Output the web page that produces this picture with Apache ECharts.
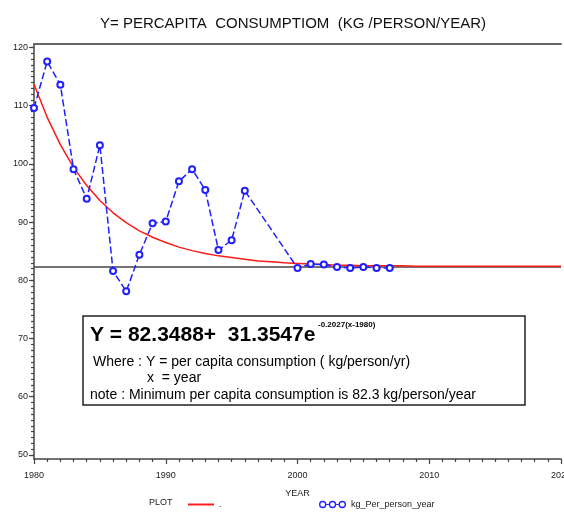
<!DOCTYPE html>
<html>
<head>
<meta charset="utf-8">
<script src="https://cdn.jsdelivr.net/npm/echarts@6/dist/echarts.min.js"></script>
<style>
  html, body { margin: 0; padding: 0; background: #fff; }
  #chart { width: 564px; height: 513px; }
</style>
</head>
<body>
<div id="chart"></div>
<script>
// observed consumption (kg/person/year)
var obsYears = [1980, 1981, 1982, 1983, 1984, 1985, 1986, 1987, 1988, 1989, 1990, 1991, 1992,
                1993, 1994, 1995, 1996, 2000, 2001, 2002, 2003, 2004, 2005, 2006, 2007];
var obsValues = [109.6, 117.6, 113.6, 99.1, 94.0, 103.2, 81.6, 78.1, 84.4, 89.8, 90.1, 97.0, 99.1,
                 95.5, 85.2, 86.9, 95.4, 82.1, 82.8, 82.7, 82.3, 82.1, 82.3, 82.1, 82.1];

// fitted curve
var fitYears = [1980, 1981, 1982, 1983, 1984, 1985, 1986, 1987, 1988, 1989, 1990, 1991, 1992,
                1993, 1994, 1995, 1996, 1997, 1998, 1999, 2000, 2001, 2002, 2003, 2004, 2005,
                2006, 2007, 2008, 2009, 2010, 2012, 2015, 2020];
var fitValues = [113.7, 108.0, 103.3, 99.4, 96.3, 93.7, 91.6, 89.9, 88.5, 87.4, 86.5, 85.7, 85.1,
                 84.6, 84.2, 83.9, 83.6, 83.3, 83.2, 83.0, 82.9, 82.8, 82.7, 82.6, 82.6, 82.5,
                 82.5, 82.5, 82.5, 82.4, 82.4, 82.4, 82.4, 82.4];

var asymptote = 82.3488;

// axis ticks
var yTicks = [50, 60, 70, 80, 90, 100, 110, 120];
var yMinorTicks = [];
for (var v = 50; v <= 120; v++) { yMinorTicks.push(v); }

var FONT = 'Liberation Sans, Arial, sans-serif';

// legend icon: three rings on a line (O-O-O)
function ring(cx, cy, r, ri) {
    return 'M' + (cx - r) + ',' + cy + ' A' + r + ',' + r + ' 0 1 1 ' + (cx + r) + ',' + cy +
           ' A' + r + ',' + r + ' 0 1 1 ' + (cx - r) + ',' + cy + ' Z ' +
           'M' + (cx - ri) + ',' + cy + ' A' + ri + ',' + ri + ' 0 1 0 ' + (cx + ri) + ',' + cy +
           ' A' + ri + ',' + ri + ' 0 1 0 ' + (cx - ri) + ',' + cy + ' Z ';
}
var ringIcon = 'path://' + ring(4, 4, 3.6, 2.3) + ring(13.5, 4, 3.6, 2.3) + ring(23, 4, 3.6, 2.3) +
    'M7.6,3.4 L9.9,3.4 L9.9,4.6 L7.6,4.6 Z M17.1,3.4 L19.4,3.4 L19.4,4.6 L17.1,4.6 Z';

function pairs(xs, ys) {
    var out = [];
    for (var i = 0; i < xs.length; i++) { out.push([xs[i], ys[i]]); }
    return out;
}

var chart = echarts.init(document.getElementById('chart'), null, { renderer: 'canvas' });

var option = {
    animation: false,
    backgroundColor: '#fff',
    title: {
        text: 'Y= PERCAPITA  CONSUMPTIOM  (KG /PERSON/YEAR)',
        left: 95,
        top: 11,
        textStyle: {
            fontFamily: FONT,
            fontSize: 15,
            fontWeight: 'normal',
            color: '#111'
        }
    },
    grid: { left: 34, right: 3, top: 44, bottom: 54, containLabel: false, outerBoundsMode: 'none' },
    legend: [{
        data: [{ name: '.', icon: 'rect' }],
        left: 183, top: 495,
        itemWidth: 26, itemHeight: 2, itemGap: 4,
        textStyle: { fontFamily: FONT, fontSize: 9, color: '#222' }
    }, {
        data: [{ name: 'kg_Per_person_year', icon: ringIcon,
                 itemStyle: { color: '#2020ff', borderWidth: 0 } }],
        left: 314, top: 495,
        itemWidth: 27, itemHeight: 8, itemGap: 4,
        textStyle: { fontFamily: FONT, fontSize: 9, color: '#222' }
    }],
    xAxis: [{
        type: 'value',
        min: 1980, max: 2020, interval: 10,
        position: 'bottom',
        name: 'YEAR',
        nameLocation: 'middle',
        nameGap: 30,
        nameTextStyle: { fontFamily: FONT, fontSize: 9, color: '#222' },
        axisLine: { onZero: false, lineStyle: { color: '#444', width: 1.5 } },
        axisTick: { length: 5, lineStyle: { color: '#444', width: 1.2 } },
        minorTick: { show: true, splitNumber: 10, length: 3, lineStyle: { color: '#444', width: 1.2 } },
        axisLabel: {
            fontFamily: FONT, fontSize: 9, color: '#222', margin: 12,
            formatter: function (val) { return String(val); }
        },
        splitLine: { show: false }
    }, {
        type: 'value',
        min: 1980, max: 2020,
        position: 'top',
        axisLine: { onZero: false, lineStyle: { color: '#666', width: 2 } },
        axisTick: { show: false },
        axisLabel: { show: false },
        splitLine: { show: false }
    }],
    yAxis: [{
        type: 'value',
        min: 49.3, max: 120.6,
        position: 'left',
        axisLine: { show: true, onZero: false, lineStyle: { color: '#444', width: 1.5 } },
        axisTick: { length: 5, customValues: yTicks, lineStyle: { color: '#444', width: 1.2 } },
        axisLabel: { customValues: yTicks, fontFamily: FONT, fontSize: 9, color: '#222', margin: 6 },
        splitLine: { show: false }
    }, {
        type: 'value',
        min: 49.3, max: 120.6,
        position: 'left',
        axisLine: { show: false },
        axisTick: { length: 3, customValues: yMinorTicks, lineStyle: { color: '#444', width: 1.2 } },
        axisLabel: { show: false },
        splitLine: { show: false }
    }],
    series: [{
        name: '.',
        type: 'line',
        data: pairs(fitYears, fitValues),
        symbol: 'none',
        lineStyle: { color: '#ff1a1a', width: 1.5 },
        itemStyle: { color: '#ff1a1a' },
        z: 3,
        markLine: {
            silent: true,
            symbol: 'none',
            label: { show: false },
            lineStyle: { color: '#444', width: 1.5, type: 'solid' },
            data: [{ yAxis: asymptote }],
            z: 2
        }
    }, {
        name: 'kg_Per_person_year',
        type: 'line',
        data: pairs(obsYears, obsValues),
        symbol: 'emptyCircle',
        symbolSize: 6,
        lineStyle: { color: '#2020ff', width: 1.5, type: [7, 3] },
        itemStyle: { color: '#2020ff', borderWidth: 1.5 },
        z: 4
    }],
    graphic: [{
        type: 'text',
        left: 149, top: 498,
        style: { text: 'PLOT', font: '9px ' + FONT, fill: '#222' }
    }, {
        type: 'rect',
        shape: { x: 83, y: 316, width: 442, height: 89 },
        style: { fill: '#fff', stroke: '#222', lineWidth: 1.5 },
        z: 100
    }, {
        type: 'text',
        x: 90, y: 335,
        style: {
            text: 'Y = 82.3488+  31.3547e',
            font: 'bold 21px ' + FONT, fill: '#000',
            textVerticalAlign: 'middle'
        },
        z: 101
    }, {
        type: 'text',
        x: 318, y: 325,
        style: {
            text: '-0.2027(x-1980)',
            font: 'bold 8px ' + FONT, fill: '#000',
            textVerticalAlign: 'middle'
        },
        z: 101
    }, {
        type: 'text',
        x: 93, y: 362,
        style: {
            text: 'Where : Y = per capita consumption ( kg/person/yr)',
            font: '14px ' + FONT, fill: '#000',
            textVerticalAlign: 'middle'
        },
        z: 101
    }, {
        type: 'text',
        x: 147, y: 378,
        style: {
            text: 'x  = year',
            font: '14px ' + FONT, fill: '#000',
            textVerticalAlign: 'middle'
        },
        z: 101
    }, {
        type: 'text',
        x: 90, y: 395,
        style: {
            text: 'note : Minimum per capita consumption is 82.3 kg/person/year',
            font: '14px ' + FONT, fill: '#000',
            textVerticalAlign: 'middle'
        },
        z: 101
    }]
};

chart.setOption(option);
</script>
</body>
</html>
